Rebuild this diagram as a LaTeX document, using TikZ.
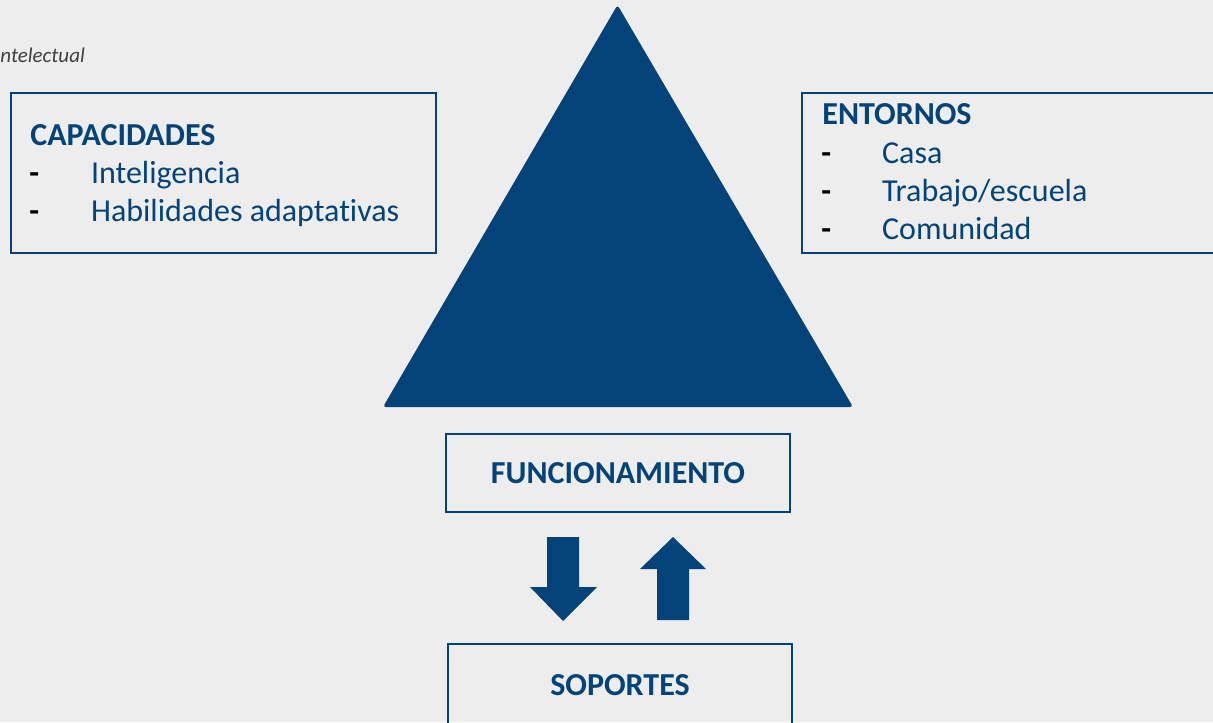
\documentclass[tikz,border=0pt]{standalone}
\usepackage{fontspec}
\setmainfont[Ligatures=NoCommon]{Carlito}
\usetikzlibrary{positioning}
\definecolor{azul}{HTML}{03437A}
\definecolor{fondo}{HTML}{EDEDED}
\definecolor{gris}{HTML}{404040}
\tikzset{
	caja/.style={draw=azul,line width=1pt,minimum width=212.5pt,minimum height=80pt,anchor=north west},
	cajab/.style={draw=azul,line width=1pt,minimum width=172pt,minimum height=39pt,text=azul,font=\fontsize{16}{19.2}\selectfont\bfseries},
	txt/.style={inner sep=0pt,anchor=base west,text=azul,font=\fontsize{16}{19.2}\selectfont},
	guion/.style={inner sep=0pt,anchor=base west,font=\fontsize{16}{19.2}\selectfont\bfseries}
}
\begin{document}
\begin{tikzpicture}[x=0.5pt,y=-0.5pt]
			\useasboundingbox (0,0) rectangle (1213,722);
			\fill[fondo] (0,0) rectangle (1213,722);
			\clip (0,0) rectangle (1213,722);
			\node[inner sep=0pt,anchor=base west,text=gris,font=\fontsize{10.5}{12}\selectfont\itshape] (nota) at (0,63) {ntelectual};
			\fill[azul,rounded corners=1.5pt] (617.5,5) -- (853,407) -- (383,407) -- cycle;
			\node[caja] (cap) at (10,92) {};
			\node[txt,font=\fontsize{16}{19.2}\selectfont\bfseries] (capt) at (30,145) {CAPACIDADES};
			\foreach \y/\t in {183.3/Inteligencia,221.7/Habilidades adaptativas}{
				\node[guion] at (29,\y) {-};
				\node[txt] at (90.7,\y) {\t};
			}
			\node[caja] (ent) at (801,92) {};
			\node[txt,font=\fontsize{16}{19.2}\selectfont\bfseries] (entt) at (822,125) {ENTORNOS};
			\foreach \y/\t in {163.3/Casa,201.7/{Trabajo/escuela},239.3/Comunidad}{
				\node[guion] at (821,\y) {-};
				\node[txt] at (881.7,\y) {\t};
			}
			\node[cajab] (func) at (618,473) {FUNCIONAMIENTO};
			\node[cajab,minimum height=41pt] (sop) at (620,685) {SOPORTES};
			\fill[azul] (547,537) -- (579,537) -- (579,587) -- (597,587) -- (563,621) -- (530,587) -- (547,587) -- cycle;
			\fill[azul] (657,620) -- (689,620) -- (689,569) -- (706,569) -- (673,537) -- (640,569) -- (657,569) -- cycle;
		\end{tikzpicture}
\end{document}
